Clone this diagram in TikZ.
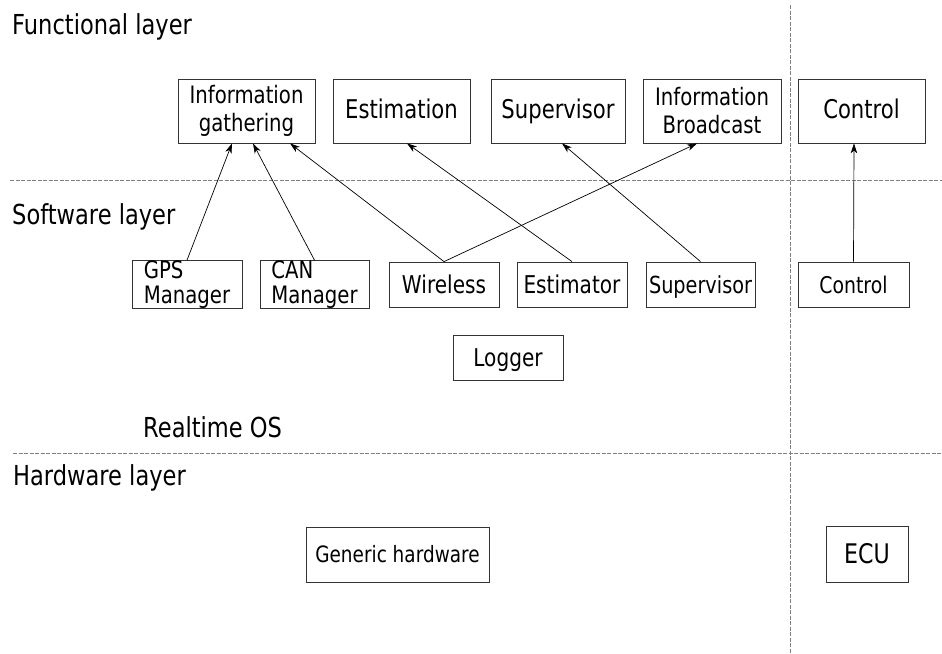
\documentclass[tikz,border=0pt]{standalone}
\usepackage{fontspec}
\setmainfont{DejaVu Sans}[FakeStretch=0.82]
\usetikzlibrary{arrows.meta}
\begin{document}
\begin{tikzpicture}[x=1pt,y=-1pt]
% font sizes
\def\titlefont{\fontsize{27.5}{30}\selectfont}
\def\bigfont{\fontsize{25.8}{28}\selectfont}
\def\midfont{\fontsize{24.5}{28}\selectfont}
\def\smallfont{\fontsize{24}{28}\selectfont}
% node style definition
\tikzstyle{block} = [
	draw=black!80, line width=0.8pt, rectangle, inner sep=0pt, align=center ];
\tikzstyle{funcblock} = [block, minimum height=64, font=\bigfont];
\tikzstyle{softblock} = [block, minimum height=45, font=\midfont];
\tikzstyle{funcline} = [funcblock, text height=19pt, text depth=5pt];
\tikzstyle{softline} = [softblock, text height=18.5pt, text depth=1.5pt];
\tikzstyle{plain} = [draw=none, fill=none, inner sep=0pt, font=\titlefont];
\tikzstyle{arrow} = [-{Stealth[length=10pt,width=6.5pt,inset=3pt]}, line width=0.7pt];
\tikzstyle{sep} = [gray, line width=0.9pt, dash pattern=on 4pt off 1.5pt];
\useasboundingbox (0,0) rectangle (942,653);
% layer separators
\draw[sep] (10,180) -- (942,180);
\draw[sep] (13,453) -- (942,453);
\draw[sep] (790,5) -- (790,653);
% layer titles
\node[plain, anchor=base west] (functitle) at (12,34) {Functional layer};
\node[plain, anchor=base west] (softtitle) at (12,224) {Software layer};
\node[plain, anchor=base west] (ostitle) at (143,437) {Realtime OS};
\node[plain, anchor=base west] (hwtitle) at (13,485) {Hardware layer};
% functional layer
\node[funcblock, minimum width=137, font=\smallfont] (info) at (246.5,111) {Information\\gathering};
\node[funcline, minimum width=137] (estimation) at (401.5,111) {Estimation};
\node[funcline, minimum width=134] (supervisor) at (558,111) {Supervisor};
\node[funcblock, minimum width=138, font=\smallfont] (broadcast) at (712,111) {Information\\Broadcast};
\node[funcline, minimum width=127] (control) at (861.5,111) {Control};
% software layer
\node[softblock, minimum width=110, font=\fontsize{24}{25}\selectfont, align=left] (gps) at (187,284.5) {GPS\\Manager};
\node[softblock, minimum width=109, font=\fontsize{24}{25}\selectfont, align=left] (can) at (314.5,284.5) {CAN\\Manager};
\node[softline, minimum width=110] (wireless) at (444,284.5) {Wireless};
\node[softline, minimum width=110] (estimator) at (572,284.5) {Estimator};
\node[softline, minimum width=109, font=\fontsize{23.5}{28}\selectfont] (supervisorsw) at (700.5,284.5) {Supervisor};
\node[softline, minimum width=111, font=\fontsize{23}{25}\selectfont] (controlsw) at (853.5,284.5) {Control};
\node[softline, minimum width=110] (logger) at (508,357.5) {Logger};
% hardware layer
\node[block, minimum width=183, minimum height=55, font=\fontsize{22.5}{24}\selectfont] (generic) at (397.5,554.5) {Generic hardware};
\node[block, minimum width=82, minimum height=56, font=\fontsize{27}{30}\selectfont] (ecu) at (867,554) {ECU};
% connections
\draw[arrow] (gps.north) -- ([xshift=-14.5]info.south);
\draw[arrow] (can.north) -- ([xshift=6.5]info.south);
\draw[arrow] (wireless.north) -- ([xshift=43.5]info.south);
\draw[arrow] (wireless.north) -- ([xshift=-15]broadcast.south);
\draw[arrow] (estimator.north) -- ([xshift=5.5]estimation.south);
\draw[arrow] (supervisorsw.north) -- ([xshift=4]supervisor.south);
\draw[arrow] (controlsw.north) -- ([xshift=-7.5]control.south);
\end{tikzpicture}
\end{document}
